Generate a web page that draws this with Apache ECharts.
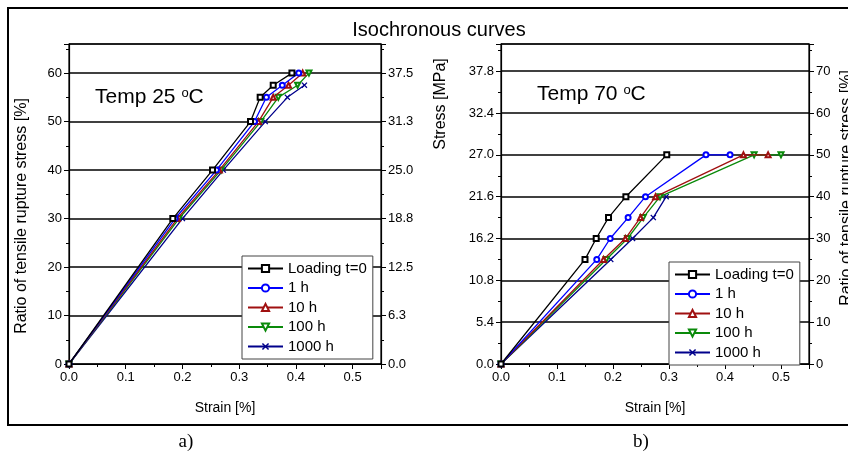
<!DOCTYPE html>
<html>
<head>
<meta charset="utf-8">
<title>Isochronous curves</title>
<script src="https://cdn.jsdelivr.net/npm/echarts@6/dist/echarts.min.js"></script>
<style>
  html, body { margin: 0; padding: 0; background: #fff; }
  #chart { width: 848px; height: 456px; }
</style>
</head>
<body>
<div id="chart"></div>
<script>
var names = ['Loading t=0', '1 h', '10 h', '100 h', '1000 h']
var colors = ['#000000', '#0000ff', '#a01010', '#0a8a0a', '#00008b']
var xMark = 'path://M0,1.5L1.5,0L5,3.5L8.5,0L10,1.5L6.5,5L10,8.5L8.5,10L5,6.5L1.5,10L0,8.5L3.5,5Z'
var symbols = ['emptyRect', 'emptyCircle', 'emptyTriangle', 'emptyTriangle', xMark]
var rotates = [0, 0, 0, 180, 0]

// a) 25 C : ratio of tensile rupture stress [%] against strain [%]
var levels25 = [0, 30, 40, 50, 55, 57.5, 60]
var load25 = [0, 0.183, 0.253, 0.320, 0.337, 0.360, 0.393]
var h1_25 = [0, 0.187, 0.260, 0.327, 0.348, 0.376, 0.405]
var h10_25 = [0, 0.191, 0.265, 0.334, 0.360, 0.387, 0.412]
var h100_25 = [0, 0.194, 0.268, 0.338, 0.369, 0.403, 0.423]
var h1000_25 = [0, 0.200, 0.272, 0.346, 0.385, 0.415]

// b) 70 C
var levels70 = [0, 25, 30, 35, 40, 50, 50]
var load70 = [0, 0.150, 0.170, 0.192, 0.223, 0.296]
var h1_70 = [0, 0.171, 0.195, 0.227, 0.258, 0.366, 0.409]
var h10_70 = [0, 0.183, 0.222, 0.249, 0.276, 0.433, 0.477]
var h100_70 = [0, 0.188, 0.226, 0.254, 0.284, 0.452, 0.500]
var h1000_70 = [0, 0.196, 0.235, 0.272, 0.295]

var font = '"Liberation Sans", Arial, sans-serif'
var serif = '"Liberation Serif", "Times New Roman", serif'

function pairs(xs, ys) {
  var out = []
  for (var i = 0; i < xs.length; i++) {
    out.push([xs[i], ys[i]])
  }
  return out
}

function makeSeries(sets, levels, xi, yi, size) {
  return sets.map(function (s, i) {
    return {
      name: names[i],
      type: 'line',
      xAxisIndex: xi,
      yAxisIndex: yi,
      data: pairs(s, levels),
      symbol: symbols[i],
      symbolRotate: rotates[i],
      symbolSize: i === 4 ? size + 1 : size,
      showAllSymbol: true,
      lineStyle: { color: colors[i], width: 1.3 },
      itemStyle: { color: colors[i], borderWidth: 1 },
      z: 10 - i
    }
  })
}

var tickStyle = { show: true, length: 5, lineStyle: { color: '#000', width: 1 } }
var minorStyle = { show: true, splitNumber: 2, length: 3, lineStyle: { color: '#000', width: 1 } }
var labelBase = { color: '#000', fontSize: 13, fontFamily: font, margin: 7, showMaxLabel: false }

function xAxisFor(gi) {
  return {
    type: 'value', gridIndex: gi, min: 0, max: 0.55, interval: 0.1,
    name: 'Strain [%]', nameLocation: 'middle', nameGap: 37,
    nameTextStyle: { color: '#000', fontSize: 14, fontFamily: font },
    axisLine: { lineStyle: { color: '#000', width: 1.2 } },
    axisTick: tickStyle, minorTick: minorStyle,
    axisLabel: Object.assign({}, labelBase, {
      formatter: function (v) { return v.toFixed(1) }
    }),
    splitLine: { show: false }
  }
}

function yAxisFor(gi, pos, max, step, digits, grid) {
  return {
    type: 'value', gridIndex: gi, position: pos, min: 0, max: max, interval: step,
    axisLine: { show: true, lineStyle: { color: '#000', width: 1.2 } },
    axisTick: tickStyle, minorTick: minorStyle,
    axisLabel: Object.assign({}, labelBase, {
      formatter: function (v) { return v.toFixed(digits) }
    }),
    splitLine: { show: grid, lineStyle: { color: '#000', width: 1.5 } }
  }
}

function legendAt(left, top) {
  return {
    data: names, orient: 'vertical', left: left, top: top,
    itemWidth: 35, itemHeight: 9, itemGap: 4.5, itemTextGap: 4,
    padding: [5, 6, 5, 5],
    backgroundColor: '#fff', borderColor: '#444', borderWidth: 1, borderRadius: 0,
    textStyle: { color: '#000', fontSize: 15, fontFamily: font },
    selectedMode: false
  }
}

function vText(x, y, text, size) {
  return { type: 'text', x: x, y: y, rotation: Math.PI / 2,
    style: { text: text, fontSize: size, fontFamily: font, fill: '#000', align: 'center', verticalAlign: 'middle' } }
}

function tempText(x, y, t) {
  return { type: 'text', x: x, y: y, style: { text: 'Temp ' + t + ' {s|o}C', fontSize: 21, fontFamily: font, fill: '#000', align: 'left', verticalAlign: 'middle',
    rich: { s: { fontSize: 13, fontFamily: font, verticalAlign: 'top', lineHeight: 12 } } } }
}

var option = {
  animation: false,
  backgroundColor: '#fff',
  grid: [
    { left: 69, right: 467, top: 44, bottom: 92, show: true, borderColor: '#000', borderWidth: 1.2, backgroundColor: 'transparent' },
    { left: 501, right: 39, top: 44, bottom: 92, show: true, borderColor: '#000', borderWidth: 1.2, backgroundColor: 'transparent' }
  ],
  xAxis: [xAxisFor(0), xAxisFor(1)],
  yAxis: [
    yAxisFor(0, 'left', 66, 10, 0, true),
    yAxisFor(0, 'right', 41.25, 6.25, 1, false),
    yAxisFor(1, 'left', 41.31, 5.4, 1, false),
    yAxisFor(1, 'right', 76.5, 10, 0, true)
  ],
  legend: [legendAt(242, 256), legendAt(669, 262)],
  series: makeSeries([load25, h1_25, h10_25, h100_25, h1000_25], levels25, 0, 0, 5)
    .concat(makeSeries([load70, h1_70, h10_70, h100_70, h1000_70], levels70, 1, 3, 5)),
  graphic: [
    { type: 'rect', silent: true, z: 100, shape: { x: 8, y: 8, width: 860, height: 417 },
      style: { fill: null, stroke: '#000', lineWidth: 2 } },
    { type: 'text', x: 439, y: 30, style: { text: 'Isochronous curves', fontSize: 20, fontFamily: font, fill: '#000', align: 'center', verticalAlign: 'middle' } },
    tempText(95, 97, '25'),
    tempText(537, 94, '70'),
    vText(22, 216, 'Ratio of tensile rupture stress [%]', 16),
    vText(441, 104, 'Stress [MPa]', 16),
    vText(847, 188, 'Ratio of tensile rupture stress [%]', 16),
    { type: 'text', x: 186, y: 442, style: { text: 'a)', fontSize: 19, fontFamily: serif, fill: '#000', align: 'center', verticalAlign: 'middle' } },
    { type: 'text', x: 641, y: 442, style: { text: 'b)', fontSize: 19, fontFamily: serif, fill: '#000', align: 'center', verticalAlign: 'middle' } }
  ]
}

var myChart = echarts.init(document.getElementById('chart'))
myChart.setOption(option)
</script>
</body>
</html>
